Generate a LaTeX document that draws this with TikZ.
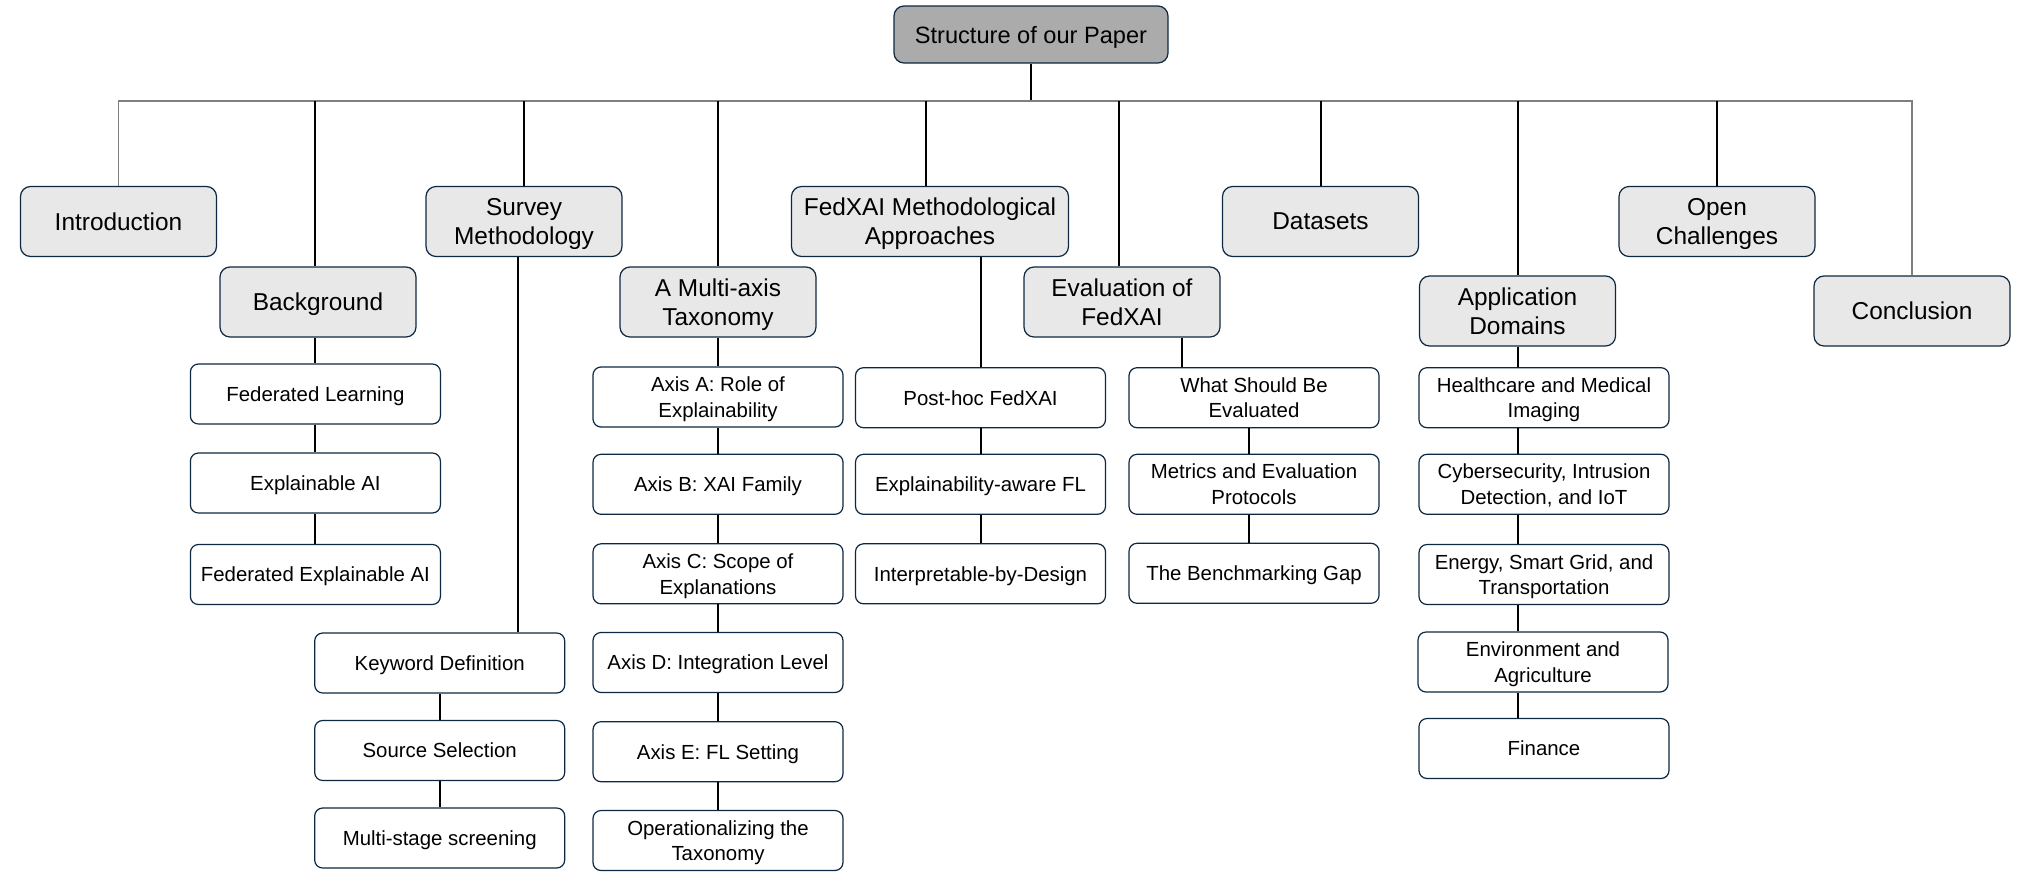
\documentclass[tikz,border=0pt]{standalone}
\usepackage{fontspec}
\setmainfont{Liberation Sans}
\usetikzlibrary{calc}
\definecolor{boxline}{HTML}{0E2841}
\definecolor{secfill}{HTML}{E8E8E8}
\definecolor{rootfill}{HTML}{ABABAB}
\definecolor{barline}{HTML}{7F7F7F}
\tikzset{font={\fontsize{10.2pt}{12.8pt}\selectfont}}

\begin{document}
\begin{tikzpicture}[x=0.5pt,y=-0.5pt,
root box/.style={draw=boxline,line width=0.6pt,fill=rootfill,rounded corners=5pt,minimum width=137pt,minimum height=28.5pt,text depth=0pt,font={\fontsize{11.8pt}{14.5pt}\selectfont}},
section box/.style={draw=boxline,line width=0.6pt,fill=secfill,rounded corners=5pt,minimum width=98pt,minimum height=35pt,align=center,inner sep=1pt,text depth=0pt,font={\fontsize{12.2pt}{14.5pt}\selectfont}},
sub box/.style={draw=boxline,line width=0.6pt,fill=white,rounded corners=4pt,minimum width=125pt,minimum height=30pt,align=center,inner sep=1pt,text depth=0pt},
stem/.style={black,line width=1pt},
bar/.style={barline,line width=0.8pt}
]
\useasboundingbox (0,0) rectangle (2031,895);

\node[root box] (root) at (1031,34.5) {Structure of our Paper};
\coordinate (barL) at (118,101);

% sections
\node[section box] (intro) at (118.5,221.5) {Introduction};
\node[section box] (bg) at (318,302) {Background};
\node[section box] (survey) at (524,221.5) {Survey\\Methodology};
\node[section box] (tax) at (718,302) {A Multi-axis\\Taxonomy};
\node[section box,minimum width=138.5pt] (methods) at (930,221.5) {FedXAI Methodological\\Approaches};
\node[section box] (eval) at (1122,302) {Evaluation of\\FedXAI};
\node[section box] (data) at (1320.5,221.5) {Datasets};
\node[section box] (app) at (1517.5,311) {Application\\Domains};
\node[section box] (open) at (1717,221.5) {Open\\Challenges};
\node[section box] (concl) at (1912,311) {Conclusion};

% subsections
\node[sub box] (fl) at (315.4,394) {Federated Learning};
\node[sub box] (xai) at (315.4,483) {Explainable AI};
\node[sub box] (fxai) at (315.4,574.5) {Federated Explainable AI};

\node[sub box] (kw) at (439.7,663) {Keyword Definition};
\node[sub box] (src) at (439.7,750.5) {Source Selection};
\node[sub box] (screen) at (439.7,838) {Multi-stage screening};

\node[sub box] (axa) at (718,397) {Axis A: Role of\\Explainability};
\node[sub box] (axb) at (718,484.3) {Axis B: XAI Family};
\node[sub box] (axc) at (718,573.8) {Axis C: Scope of\\Explanations};
\node[sub box] (axd) at (718,662.5) {Axis D: Integration Level};
\node[sub box] (axe) at (718,751.7) {Axis E: FL Setting};
\node[sub box] (oper) at (718,840.5) {Operationalizing the\\Taxonomy};

\node[sub box] (post) at (980.5,397.7) {Post-hoc FedXAI};
\node[sub box] (aware) at (980.5,484.3) {Explainability-aware FL};
\node[sub box] (interp) at (980.5,573.8) {Interpretable-by-Design};

\node[sub box] (what) at (1254,397.7) {What Should Be\\Evaluated};
\node[sub box] (metrics) at (1254,484.3) {Metrics and Evaluation\\Protocols};
\node[sub box] (bench) at (1254,573.3) {The Benchmarking Gap};

\node[sub box] (hc) at (1544,397.7) {Healthcare and Medical\\Imaging};
\node[sub box] (cyber) at (1544,484.3) {Cybersecurity, Intrusion\\Detection, and IoT};
\node[sub box] (energy) at (1544,574.5) {Energy, Smart Grid, and\\Transportation};
\node[sub box] (env) at (1543,662) {Environment and\\Agriculture};
\node[sub box] (fin) at (1544,748.5) {Finance};

% trunk and bar
\draw[stem] (root.south) -- (root.south |- barL);
\draw[bar] (intro.north) -- (intro.north |- barL) -- (concl.north |- barL) -- (concl.north);

% stems to the sections
\draw[stem] (fl.north |- barL) -- (fl.north |- bg.north);
\foreach \s in {survey,tax,data,app,open}
  \draw[stem] (\s.north |- barL) -- (\s.north);
\draw[stem] ($(methods.north |- barL)+(-4,0)$) -- ($(methods.north)+(-4,0)$);
\draw[stem] ($(eval.north |- barL)+(-3.5,0)$) -- ($(eval.north)+(-3.5,0)$);

% sections to their first subsection
\draw[stem] (fl.north |- bg.south) -- (fl.north);
\draw[stem] ($(survey.south)+(-6,0)$) -- ($(survey.south |- kw.north)+(-6,0)$);
\draw[stem] (tax.south) -- (axa.north);
\draw[stem] (post.north |- methods.south) -- (post.north);
\draw[stem] ($(eval.south)+(60,0)$) -- ($(eval.south |- what.north)+(60,0)$);
\draw[stem] (app.south) -- (app.south |- hc.north);

% chains
\foreach \a/\b in {fl/xai,xai/fxai,kw/src,src/screen,axa/axb,axb/axc,axc/axd,axd/axe,axe/oper,post/aware,aware/interp}
  \draw[stem] (\a.south) -- (\b.north);
\foreach \a/\b in {what/metrics,metrics/bench}
  \draw[stem] ($(\a.south)+(-5,0)$) -- ($(\b.north)+(-5,0)$);
\foreach \a/\b in {hc/cyber,cyber/energy,energy/env,env/fin}
  \draw[stem] (\a.south -| app) -- (\b.north -| app);

\end{tikzpicture}
\end{document}
